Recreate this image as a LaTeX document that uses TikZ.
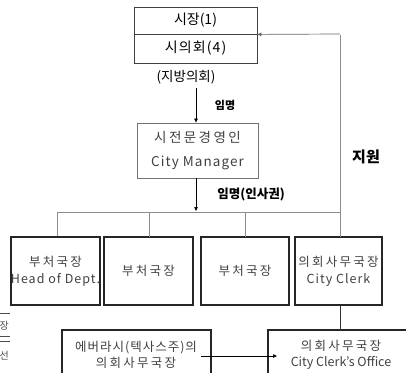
\documentclass[tikz,border=0pt]{standalone}
\usepackage{fontspec}
\setmainfont{Noto Sans CJK KR}
\newfontfamily\krs{Noto Sans CJK KR}[LetterSpace=18]
\newfontfamily\lts{Noto Sans CJK KR}[LetterSpace=8]
\usetikzlibrary{arrows.meta}
\begin{document}
\begin{tikzpicture}[x=1pt,y=-1pt,
  tbox/.style={draw=black!75,line width=0.8pt,inner sep=0pt},
  gbox/.style={draw=black!55,line width=0.8pt,inner sep=0pt},
  bbox/.style={draw=black!85,line width=1.6pt,inner sep=0pt},
  conn/.style={draw=black!45,line width=1pt},
  arr/.style={draw=black,line width=0.7pt,-{Triangle[length=4pt,width=3.5pt]}},
  txt/.style={text=black!75},
  lbl/.style={font=\fontsize{11}{12}\selectfont\bfseries},
]
\useasboundingbox (0,0) rectangle (406,372);
% top box
\node[tbox,minimum width=123pt,minimum height=27pt] (mayor) at (195.5,20.5) {};
\node[tbox,minimum width=123pt,minimum height=29pt] (council) at (195.5,48.5) {};
\node[font=\fontsize{14}{16}\selectfont] at (mayor) {시장(1)};
\node[font=\fontsize{14}{16}\selectfont\lts] at (council) {시의회(4)};
\node[font=\fontsize{13.5}{16}\selectfont] (local) at (186,77) {(지방의회)};
% city manager
\node[gbox,minimum width=121pt,minimum height=55pt,align=center,txt,font=\fontsize{13.5}{24}\selectfont] (cm) at (197.5,150.5) {{\krs 시전문경영인}\\{\lts City Manager}};
\coordinate (a1) at (196,88);
\draw[arr] (a1) -- (a1 |- cm.north);
\node[lbl] (l1) at (225,105) {임명};
% bus
\coordinate (busL) at (57,212);
\coordinate (busR) at (340,212);
\draw[arr] (196,178) -- (196,211);
\node[lbl,font=\fontsize{12.5}{14}\selectfont\bfseries] (l2) at (251,195) {임명(인사권)};
\draw[conn] (busL) -- (busR);
% bottom boxes
\node[bbox,minimum width=87pt,minimum height=68pt,align=center,txt,font=\fontsize{12.5}{17}\selectfont] (b1) at (55.5,271) {{\krs 부처국장}\\{\lts Head of Dept.}};
\node[bbox,minimum width=89pt,minimum height=68pt,align=center,txt,font=\fontsize{12.5}{17}\selectfont\krs] (b2) at (148.5,271) {부처국장};
\node[bbox,minimum width=88pt,minimum height=68pt,align=center,txt,font=\fontsize{12.5}{17}\selectfont\krs] (b3) at (245,271) {부처국장};
\node[bbox,minimum width=87pt,minimum height=68pt,align=center,txt,font=\fontsize{12.5}{17}\selectfont] (b4) at (338.5,271) {{\krs 의회사무국장}\\{\lts City Clerk}};
\draw[conn] (busL) -- (busL |- b1.north);
\draw[conn] (149,212) -- (149,237);
\draw[conn] (245,212) -- (245,237);
\draw[conn] (340,35) -- (340,237);
\draw[arr,draw=black!60] (340,34) -- (mayor.south east);
\node[font=\fontsize{15}{17}\selectfont\bfseries] (sup) at (366,157) {지원};
% lower boxes
\draw[bbox] (62,400) -- (62,330) -- (211,330) -- (211,400);
\draw[bbox] (268,400) -- (268,330) -- (430,330);
\node[txt,align=center,font=\fontsize{12.5}{16}\selectfont\lts] (ev) at (136,355) {에버라시(텍사스주)의\\{\krs 의회사무국장}};
\node[txt,align=center,font=\fontsize{12.5}{16}\selectfont] (cco) at (341,355) {{\krs 의회사무국장}\\City Clerk's Office};
\draw[conn,draw=black!80] (340,305) -- (340,330);
\draw[arr] (201,356) -- (277,356);
% left fragments
\draw[black!70,line width=0.8pt] (0,313) -- (10,313);
\draw[black!70,line width=0.8pt] (0,336) -- (10,336);
\draw[black!70,line width=0.8pt] (0,341) -- (10,341);
\node[anchor=east,font=\fontsize{10}{12}\selectfont,text=black!70,inner sep=0pt] at (9,326) {장};
\node[anchor=east,font=\fontsize{10}{12}\selectfont,text=black!70,inner sep=0pt] at (9,356) {선};
\end{tikzpicture}
\end{document}
